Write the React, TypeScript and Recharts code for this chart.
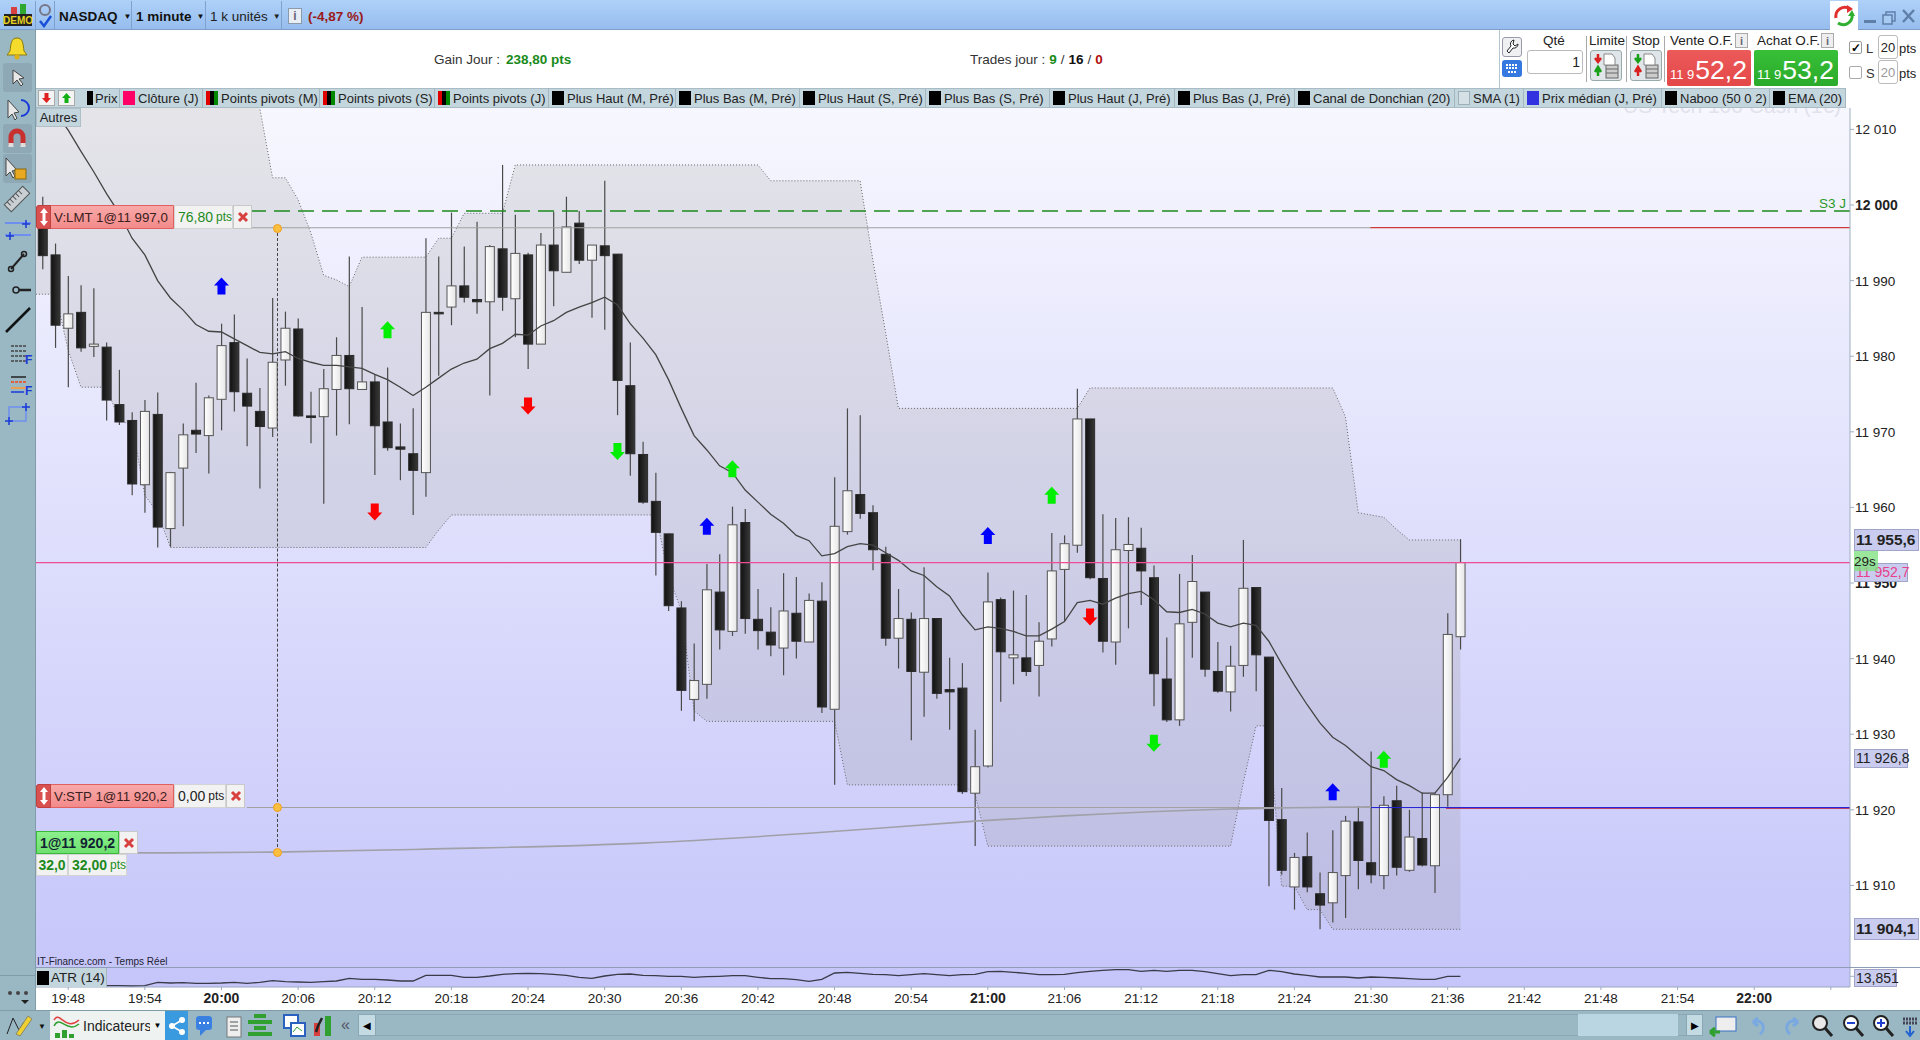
import React from "react";
import {
  Area,
  Bar,
  ComposedChart,
  Line,
  ReferenceDot,
  ReferenceLine,
  XAxis,
  YAxis,
} from "recharts";

// one label per minute, 19:45 is only half visible behind the left toolbar
const minutes = Array.from({ length: 143 }, (_, k) => {
  const t = 19 * 60 + 45 + k;
  return `${Math.floor(t / 60)}:${String(t % 60).padStart(2, "0")}`;
});

// candles start at 19:46
const opens = [
  11998.5, 11993.4, 11983.7, 11985.8, 11981.3, 11981.2, 11973.6, 11971.5, 11963.0, 11972.3,
  11957.2, 11965.2, 11970.2, 11969.5, 11974.3, 11981.8, 11975.1, 11972.7, 11970.5, 11979.5,
  11983.6, 11972.1, 11972.0, 11975.6, 11980.1, 11975.6, 11976.6, 11971.3, 11968.0, 11967.1,
  11964.6, 11985.8, 11986.5, 11989.3, 11987.5, 11987.2, 11994.2, 11987.6, 11993.4, 11981.6,
  11994.7, 11991.1, 11997.6, 11992.7, 11994.6, 11993.5, 11976.1, 11967.0, 11960.8, 11956.5,
  11946.7, 11934.6, 11936.6, 11948.8, 11943.6, 11958.0, 11945.2, 11943.5, 11941.4, 11946.0,
  11942.2, 11947.6, 11933.3, 11956.8, 11961.7, 11959.3, 11953.8, 11942.7, 11945.2, 11938.2,
  11945.3, 11935.9, 11936.1, 11922.2, 11925.8, 11947.8, 11940.1, 11940.1, 11939.1, 11942.6,
  11951.8, 11955.0, 11971.7, 11950.6, 11942.2, 11954.3, 11954.6, 11950.7, 11937.3, 11931.9,
  11944.8, 11948.8, 11938.3, 11935.6, 11939.1, 11949.4, 11940.2, 11918.7, 11909.8, 11913.8,
  11908.9, 11907.7, 11911.3, 11918.4, 11913.0, 11911.3, 11921.2, 11912.0, 11916.2, 11912.6,
  11922.0, 11942.9,
];
const closes = [
  11993.3, 11984.1, 11985.6, 11981.1, 11981.6, 11974.2, 11971.3, 11963.1, 11972.7, 11957.4,
  11964.6, 11969.6, 11969.7, 11974.5, 11981.4, 11975.3, 11973.4, 11970.7, 11979.2, 11983.7,
  11972.1, 11971.9, 11975.7, 11980.1, 11975.7, 11976.6, 11970.8, 11967.9, 11967.7, 11964.9,
  11985.8, 11985.7, 11989.3, 11987.8, 11987.2, 11994.5, 11987.8, 11993.6, 11981.6, 11994.7,
  11991.3, 11997.1, 11992.7, 11994.7, 11993.3, 11976.8, 11967.1, 11960.7, 11956.7, 11947.0,
  11935.8, 11937.1, 11949.1, 11943.8, 11957.7, 11945.3, 11943.7, 11941.8, 11946.3, 11942.3,
  11947.7, 11933.6, 11957.5, 11962.2, 11959.2, 11954.4, 11942.7, 11945.3, 11938.3, 11945.3,
  11935.4, 11935.6, 11922.4, 11925.7, 11947.5, 11940.9, 11940.5, 11938.3, 11942.3, 11951.6,
  11955.2, 11971.7, 11950.7, 11942.3, 11954.4, 11955.1, 11951.6, 11938.0, 11931.9, 11944.6,
  11950.2, 11938.6, 11935.7, 11939.0, 11949.3, 11940.5, 11918.6, 11912.0, 11913.7, 11909.8,
  11907.4, 11911.7, 11918.5, 11913.3, 11911.4, 11920.6, 11912.4, 11916.4, 11912.7, 11922.0,
  11943.2, 11952.7,
];
const highs = [
  12001.1, 11994.9, 11990.6, 11989.4, 11989.0, 11981.8, 11978.2, 11972.6, 11974.2, 11975.2,
  11964.7, 11971.1, 11976.5, 11974.8, 11984.3, 11985.5, 11979.7, 11975.8, 11987.7, 11985.9,
  11985.0, 11975.3, 11978.3, 11982.5, 11993.2, 11986.5, 11977.5, 11978.5, 11971.1, 11973.1,
  11995.6, 11993.2, 11999.0, 11994.5, 11997.8, 11994.7, 12005.3, 11998.7, 11993.7, 11996.3,
  11999.1, 12001.1, 11999.2, 11994.7, 12003.2, 11993.5, 11981.8, 11968.7, 11964.6, 11956.5,
  11947.6, 11942.0, 11952.5, 11953.8, 11960.1, 11959.8, 11949.2, 11946.8, 11951.3, 11950.8,
  11948.6, 11950.1, 11964.0, 11973.1, 11972.2, 11960.3, 11954.8, 11949.2, 11946.1, 11952.1,
  11945.3, 11940.1, 11939.4, 11930.6, 11951.4, 11948.1, 11949.0, 11948.4, 11944.8, 11956.6,
  11956.3, 11975.7, 11971.7, 11959.1, 11958.6, 11958.7, 11957.3, 11952.3, 11942.8, 11951.2,
  11953.7, 11948.8, 11942.2, 11941.7, 11955.7, 11949.4, 11940.2, 11922.9, 11914.3, 11917.0,
  11911.7, 11917.3, 11919.2, 11920.5, 11927.7, 11921.8, 11923.2, 11920.0, 11922.3, 11922.2,
  11946.0, 11955.8,
];
const lows = [
  11991.5, 11981.1, 11975.9, 11980.6, 11979.9, 11971.5, 11970.9, 11961.6, 11959.3, 11954.7,
  11954.8, 11957.5, 11967.2, 11964.5, 11970.2, 11972.7, 11968.1, 11962.5, 11969.3, 11976.1,
  11972.0, 11968.5, 11960.5, 11969.5, 11971.0, 11975.6, 11964.3, 11967.5, 11963.6, 11959.0,
  11961.4, 11977.4, 11984.1, 11987.1, 11985.6, 11974.8, 11986.0, 11982.5, 11978.3, 11981.6,
  11986.6, 11991.1, 11992.2, 11985.1, 11983.5, 11972.2, 11964.2, 11960.5, 11951.0, 11946.3,
  11933.1, 11931.7, 11934.7, 11941.2, 11943.0, 11943.3, 11941.2, 11940.3, 11937.8, 11940.0,
  11942.2, 11932.8, 11923.3, 11956.4, 11958.5, 11951.7, 11941.7, 11938.7, 11929.2, 11932.3,
  11934.7, 11930.6, 11922.1, 11915.2, 11925.6, 11934.3, 11936.6, 11937.7, 11935.0, 11941.6,
  11945.0, 11954.0, 11950.5, 11940.8, 11939.2, 11944.0, 11947.1, 11933.7, 11931.6, 11931.1,
  11940.1, 11937.6, 11935.5, 11933.0, 11937.6, 11935.7, 11909.9, 11911.4, 11906.8, 11909.1,
  11904.2, 11905.1, 11905.7, 11909.5, 11910.3, 11909.5, 11911.3, 11911.8, 11912.5, 11909.0,
  11920.4, 11941.2,
];

// Donchian and EMA start one minute earlier, at 19:45
const donchianHigh = [
  12020, 12020, 12020, 12020, 12020, 12020, 12020, 12020, 12020, 12020,
  12020, 12020, 12020, 12020, 12020, 12020, 12020, 12018, 12012.8, 12003.6,
  12003.6, 12000.7, 11996.3, 11990.7, 11990.1, 11989.2, 11993.1, 11993.1, 11993.1, 11993.1,
  11993.1, 11993.1, 11995.6, 11995.6, 11998.9, 11998.9, 11998.9, 11998.9, 12005.3, 12005.3,
  12005.3, 12005.3, 12005.3, 12005.3, 12005.3, 12005.3, 12005.3, 12005.3, 12005.3, 12005.3,
  12005.3, 12005.3, 12005.3, 12005.3, 12005.3, 12005.3, 12005.3, 12005.3, 12003.2, 12003.2,
  12003.2, 12003.2, 12003.2, 12003.2, 12003.2, 12003.2, 11992.7, 11983.1, 11973.1, 11973.1,
  11973.1, 11973.1, 11973.1, 11973.1, 11973.1, 11973.1, 11973.1, 11973.1, 11973.1, 11973.1,
  11973.1, 11973.1, 11973.1, 11975.8, 11975.8, 11975.8, 11975.8, 11975.8, 11975.8, 11975.8,
  11975.8, 11975.8, 11975.8, 11975.8, 11975.8, 11975.8, 11975.8, 11975.8, 11975.8, 11975.8,
  11975.8, 11975.8, 11975.8, 11972.0, 11959.3, 11959.0, 11958.7, 11957.1, 11955.7, 11955.7,
  11955.7, 11955.7, 11955.7,
];
const donchianLow = [
  11988.2, 11988.2, 11988.2, 11980.8, 11975.9, 11975.9, 11975.9, 11971.5, 11970.9, 11961.6,
  11959.3, 11954.7, 11954.7, 11954.7, 11954.7, 11954.7, 11954.7, 11954.7, 11954.7, 11954.7,
  11954.7, 11954.7, 11954.7, 11954.7, 11954.7, 11954.7, 11954.7, 11954.7, 11954.7, 11954.7,
  11954.7, 11954.7, 11957.0, 11959.0, 11959.0, 11959.0, 11959.0, 11959.0, 11959.0, 11959.0,
  11959.0, 11959.0, 11959.0, 11959.0, 11959.0, 11959.0, 11959.0, 11959.0, 11959.0, 11959.0,
  11951.0, 11946.3, 11933.1, 11931.7, 11931.7, 11931.7, 11931.7, 11931.7, 11931.7, 11931.7,
  11931.7, 11931.7, 11931.7, 11931.7, 11923.3, 11923.3, 11923.3, 11923.3, 11923.3, 11923.3,
  11923.3, 11923.3, 11923.3, 11923.3, 11922.1, 11915.2, 11915.2, 11915.2, 11915.2, 11915.2,
  11915.2, 11915.2, 11915.2, 11915.2, 11915.2, 11915.2, 11915.2, 11915.2, 11915.2, 11915.2,
  11915.2, 11915.2, 11915.2, 11915.2, 11915.2, 11923.6, 11931.1, 11931.1, 11909.9, 11909.9,
  11906.8, 11906.8, 11904.2, 11904.2, 11904.2, 11904.2, 11904.2, 11904.2, 11904.2, 11904.2,
  11904.2, 11904.2, 11904.2,
];
const ema20 = [
  12022, 12018, 12012.2, 12009.9, 12007.1, 12004.4, 12001.5, 11998.9, 11995.6, 11993.4,
  11990.0, 11987.7, 11986.1, 11984.2, 11983.3, 11983.2, 11982.3, 11981.4, 11980.5, 11980.3,
  11980.6, 11979.7, 11979.2, 11978.8, 11978.8, 11978.6, 11978.4, 11977.6, 11976.9, 11975.9,
  11974.8, 11975.9, 11977.1, 11978.3, 11979.1, 11979.6, 11981.0, 11981.7, 11982.9, 11982.8,
  11984.0, 11984.7, 11985.8, 11986.5, 11987.1, 11987.8, 11986.8, 11984.3, 11982.4, 11980.2,
  11976.9, 11973.1, 11969.5, 11967.6, 11965.5, 11964.6, 11962.3, 11960.7, 11959.1, 11957.9,
  11956.3, 11955.6, 11953.6, 11953.9, 11954.8, 11955.2, 11955.0, 11954.0, 11953.0, 11951.6,
  11951.0, 11949.5, 11948.3, 11945.8, 11943.8, 11944.2, 11944.0, 11943.6, 11943.0, 11943.0,
  11943.9, 11944.9, 11947.4, 11947.7, 11947.2, 11948.0, 11948.6, 11948.9, 11947.8, 11946.2,
  11946.1, 11946.5, 11945.9, 11944.7, 11944.2, 11944.7, 11944.4, 11942.3, 11939.3, 11936.5,
  11933.9, 11931.5, 11929.6, 11928.5, 11927.1, 11925.7, 11925.2, 11924.0, 11923.2, 11922.2,
  11922.2, 11924.3, 11926.8,
];

// ATR (14) starts at 19:46 like the candles
const atr14 = [
  9.2, 9.2, 9.1, 9.1, 9.2, 9.2, 9.15, 9.0, 9.15, 10.85,
  10.5, 10.65, 10.35, 10.35, 10.5, 10.85, 10.35, 10.85, 11.65, 11.15,
  11.0, 10.85, 11.15, 11.5, 12.85, 12.35, 12.35, 12.0, 11.5, 11.5,
  14.35, 14.35, 14.35, 13.35, 13.35, 14.0, 14.85, 15.15, 15.35, 15.15,
  14.85, 14.35, 13.35, 12.85, 14.0, 14.85, 15.0, 14.35, 14.15, 13.85,
  13.85, 13.35, 13.65, 13.85, 14.15, 14.15, 13.35, 12.65, 12.65, 12.15,
  11.35, 12.35, 15.5, 15.85, 15.35, 14.85, 14.65, 14.15, 14.65, 15.15,
  14.65, 14.15, 14.65, 14.85, 16.15, 16.35, 15.85, 15.35, 14.65, 14.65,
  14.85, 15.65, 16.35, 16.85, 17.15, 17.15, 16.35, 16.85, 16.35, 16.85,
  16.85, 16.15, 15.15, 14.15, 14.65, 14.65, 16.85, 16.15, 15.0, 14.35,
  13.5, 13.5, 13.5, 13.0, 13.5, 13.35, 13.0, 12.65, 12.35, 12.35,
  13.85, 13.85,
];

const positionTimes = ["19:53", "19:54", "20:04", "20:16", "20:33", "20:46", "20:59", "21:06", "21:19", "21:30"];
const positionValues = [11914.3, 11914.3, 11914.4, 11914.8, 11915.6, 11916.9, 11918.5, 11919.2, 11920.1, 11920.4];

const arrows = [
  { time: "20:00", price: 11989.3, color: "#0000ff", up: true },
  { time: "20:13", price: 11983.5, color: "#00ee00", up: true },
  { time: "20:12", price: 11959.4, color: "#ff0000", up: false },
  { time: "20:24", price: 11973.4, color: "#ff0000", up: false },
  { time: "20:31", price: 11967.4, color: "#00ee00", up: false },
  { time: "20:40", price: 11965.1, color: "#00ee00", up: true },
  { time: "20:38", price: 11957.5, color: "#0000ff", up: true },
  { time: "21:00", price: 11956.3, color: "#0000ff", up: true },
  { time: "21:05", price: 11961.6, color: "#00ee00", up: true },
  { time: "21:08", price: 11945.5, color: "#ff0000", up: false },
  { time: "21:13", price: 11928.8, color: "#00ee00", up: false },
  { time: "21:27", price: 11922.4, color: "#0000ff", up: true },
  { time: "21:31", price: 11926.7, color: "#00ee00", up: true },
];

const priceTicks = [12010, 12000, 11990, 11980, 11970, 11960, 11950, 11940, 11930, 11920, 11910];
const timeTicks = [
  "19:48", "19:54", "20:00", "20:06", "20:12", "20:18", "20:24", "20:30", "20:36", "20:42", "20:48", "20:54",
  "21:00", "21:06", "21:12", "21:18", "21:24", "21:30", "21:36", "21:42", "21:48", "21:54", "22:00", "22:06",
];

const tableRows = minutes.map((time, k) => {
  const i = k - 1;
  const hasCandle = i >= 0 && i < opens.length;
  const posIdx = positionTimes.indexOf(time);
  return {
    time,
    open: hasCandle ? opens[i] : null,
    close: hasCandle ? closes[i] : null,
    high: hasCandle ? highs[i] : null,
    low: hasCandle ? lows[i] : null,
    range: hasCandle ? [lows[i], highs[i]] : null,
    band: k < donchianHigh.length ? [donchianLow[k], donchianHigh[k]] : null,
    ema: k < ema20.length ? ema20[k] : null,
    atr: hasCandle ? atr14[i] : null,
    position: posIdx >= 0 ? positionValues[posIdx] : null,
  };
});

const FONT = '"Liberation Sans", Arial, sans-serif';
const CHROME = "#9ab8c4";
const STRIP = "#c3d5dd";

function Candle(props: any) {
  const { x, y, width, height, payload } = props;
  if (payload.high == null) return null;
  const k = height / (payload.high - payload.low);
  const up = payload.close >= payload.open;
  const top = y + (payload.high - Math.max(payload.open, payload.close)) * k;
  const bodyH = Math.max(Math.abs(payload.close - payload.open) * k, 1.5);
  const mid = x + width / 2;
  return (
    <g>
      <line x1={mid} x2={mid} y1={y} y2={y + height} stroke="#4a4a4a" strokeWidth={1.2} />
      <rect
        x={x}
        y={top}
        width={width}
        height={bodyH}
        fill={up ? "url(#whiteBody)" : "url(#darkBody)"}
        stroke={up ? "#555" : "#2a2a2a"}
        strokeWidth={1}
      />
    </g>
  );
}

function arrowShape(color: string, up: boolean) {
  return (p: any) => {
    const s = up ? 1 : -1;
    const pts = [
      [0, -8.5], [7.5, -0.5], [4, -0.5], [4, 8.5], [-4, 8.5], [-4, -0.5], [-7.5, -0.5],
    ].map(([a, b]) => `${p.cx + a},${p.cy + b * s}`);
    return <polygon points={pts.join(" ")} fill={color} />;
  };
}

function PriceTick(p: any) {
  const v = p.payload.value;
  const bold = v === 12000 || v === 11950;
  const label = `${String(v).slice(0, -3)} ${String(v).slice(-3)}`;
  return (
    <text x={p.x} y={p.y + 5} fontSize={bold ? 14 : 13.5} fontWeight={bold ? 700 : 400} fill="#222" fontFamily={FONT}>
      {label}
    </text>
  );
}

function TimeTick(p: any) {
  const v: string = p.payload.value;
  if (v === "22:06") return null;
  const bold = v.endsWith(":00");
  return (
    <text x={p.x} y={p.y + 11} textAnchor="middle" fontSize={bold ? 14 : 13.5} fontWeight={bold ? 700 : 400} fill="#222" fontFamily={FONT}>
      {v}
    </text>
  );
}

function Box({ x, y, w, h, style, children }: any) {
  return (
    <div
      style={{
        position: "absolute",
        left: x,
        top: y,
        width: w,
        height: h,
        boxSizing: "border-box",
        display: "flex",
        alignItems: "center",
        whiteSpace: "nowrap",
        ...style,
      }}
    >
      {children}
    </div>
  );
}

const legendCells = [
  { x: 79, to: 120, label: "Prix", colors: ["#000"], narrow: true },
  { x: 120, to: 203, label: "Clôture (J)", colors: ["#ff0066"] },
  { x: 203, to: 320, label: "Points pivots (M)", colors: ["#e00000", "#000", "#008800"] },
  { x: 320, to: 435, label: "Points pivots (S)", colors: ["#e00000", "#000", "#008800"] },
  { x: 435, to: 549, label: "Points pivots (J)", colors: ["#e00000", "#000", "#008800"] },
  { x: 549, to: 676, label: "Plus Haut (M, Pré)", colors: ["#000"] },
  { x: 676, to: 800, label: "Plus Bas (M, Pré)", colors: ["#000"] },
  { x: 800, to: 926, label: "Plus Haut (S, Pré)", colors: ["#000"] },
  { x: 926, to: 1050, label: "Plus Bas (S, Pré)", colors: ["#000"] },
  { x: 1050, to: 1175, label: "Plus Haut (J, Pré)", colors: ["#000"] },
  { x: 1175, to: 1295, label: "Plus Bas (J, Pré)", colors: ["#000"] },
  { x: 1295, to: 1455, label: "Canal de Donchian (20)", colors: ["#000"] },
  { x: 1455, to: 1524, label: "SMA (1)", colors: ["#d4e0e6"], outline: true },
  { x: 1524, to: 1662, label: "Prix médian (J, Pré)", colors: ["#3232e0"] },
  { x: 1662, to: 1770, label: "Naboo (50 0 2)", colors: ["#000"] },
  { x: 1770, to: 1846, label: "EMA (20)", colors: ["#000"] },
];

function Swatch({ colors, narrow, outline }: any) {
  return (
    <span
      style={{
        display: "inline-flex",
        width: narrow ? 6 : 12,
        height: 14,
        marginRight: narrow ? 2 : 3,
        flex: "none",
        boxSizing: "border-box",
        border: outline ? "1px solid #9fb0b8" : "none",
      }}
    >
      {colors.map((c: string, i: number) => (
        <span key={i} style={{ flex: 1, background: c }} />
      ))}
    </span>
  );
}

function Legend() {
  return (
    <>
      <Box x={36} y={88} w={43} h={20} style={{ background: STRIP, borderTop: "1px solid #a9bcc6", borderBottom: "1px solid #a9bcc6" }} />
      <Box x={38} y={90} w={17} h={16} style={{ background: "#f4f4f4", border: "1px solid #aaa", justifyContent: "center" }}>
        <svg width={11} height={12}>
          <path d="M5.5 11 L10 6 H7.5 V1 H3.5 V6 H1 Z" fill="#e02020" />
        </svg>
      </Box>
      <Box x={58} y={90} w={17} h={16} style={{ background: "#f4f4f4", border: "1px solid #aaa", justifyContent: "center" }}>
        <svg width={11} height={12}>
          <path d="M5.5 1 L10 6 H7.5 V11 H3.5 V6 H1 Z" fill="#12b012" />
        </svg>
      </Box>
      {legendCells.map((c) => (
        <Box
          key={c.label}
          x={c.x}
          y={88}
          w={c.to - c.x}
          h={20}
          style={{
            background: STRIP,
            borderTop: "1px solid #a9bcc6",
            borderBottom: "1px solid #a9bcc6",
            borderRight: "1px solid #a4b6c0",
            paddingLeft: c.narrow ? 8 : 3,
            fontSize: 13,
            color: "#222",
          }}
        >
          <Swatch colors={c.colors} narrow={c.narrow} outline={c.outline} />
          {c.label}
        </Box>
      ))}
      <Box x={36} y={108} w={45} h={19} style={{ background: STRIP, border: "1px solid #aebfc8", justifyContent: "center", fontSize: 13, color: "#222" }}>
        Autres
      </Box>
    </>
  );
}

function CrossCell({ x, y, w, h }: any) {
  return (
    <Box x={x} y={y} w={w} h={h} style={{ background: "#f2f2f2", border: "1px solid #c8c8c8", justifyContent: "center" }}>
      <svg width={12} height={12} viewBox="0 0 12 12">
        <path d="M2 2 L10 10 M10 2 L2 10" stroke="#d84040" strokeWidth={3} />
      </svg>
    </Box>
  );
}

function OrderTag({ y, label, gain, gainColor, gainW }: any) {
  return (
    <>
      <Box x={36} y={y} w={138} h={24} style={{ background: "linear-gradient(#f9a9a9,#f38a8a)", border: "1px solid #e06060", borderRadius: "3px 0 0 3px", paddingLeft: 17, fontSize: 13.3, color: "#3a2020" }}>
        {label}
      </Box>
      <Box x={36} y={y} w={15} h={24} style={{ background: "#d95050", border: "1px solid #c04040", borderRadius: "3px 0 0 3px", justifyContent: "center" }}>
        <svg width={10} height={18} viewBox="0 0 10 18">
          <path d="M5 0 L9 5 H6.5 V13 H9 L5 18 L1 13 H3.5 V5 H1 Z" fill="#fff" />
        </svg>
      </Box>
      <Box x={174} y={y} w={gainW} h={24} style={{ background: "#f2f2f2", border: "1px solid #d4d4d4", paddingLeft: 3, fontSize: 14, color: gainColor }}>
        {gain.split(" ")[0]}
        <span style={{ fontSize: 12, marginLeft: 3 }}>pts</span>
      </Box>
      <CrossCell x={174 + gainW} y={y} w={19} h={24} />
    </>
  );
}

function Handle({ y }: any) {
  return (
    <div style={{ position: "absolute", left: 272.5, top: y - 4.5, width: 9, height: 9, borderRadius: 5, background: "#fbbf3f", border: "1px solid #f0a020", boxSizing: "border-box" }} />
  );
}

function ValueBox({ y, h, w, text, bold, color }: any) {
  return (
    <Box x={1854} y={y} w={w} h={h} style={{ background: "#c9ccee", border: "1px solid #a0a4c8", paddingLeft: 1, fontSize: bold ? 15.5 : 14, fontWeight: bold ? 700 : 400, color: color || "#222" }}>
      {text}
    </Box>
  );
}

function LeftBar() {
  return (
    <>
      <div style={{ position: "absolute", left: 0, top: 30, width: 35, height: 980, background: CHROME, borderRight: "1px solid #7f9ca8" }} />
      <svg style={{ position: "absolute", left: 0, top: 30 }} width={35} height={400}>
        {/* bell */}
        <path d="M17 8 C11 8 11 14 10 21 L7 25 H27 L24 21 C23 14 23 8 17 8 Z" fill="#f5dc2c" stroke="#8a7a10" />
        <circle cx={17} cy={27} r={2.5} fill="#e0b010" />
        {/* raised buttons */}
        <rect x={3} y={33} width={29} height={29} rx={3} fill="#8ea9b5" />
        <rect x={3} y={94} width={29} height={29} rx={3} fill="#8ea9b5" />
        <rect x={3} y={124} width={29} height={29} rx={3} fill="#8ea9b5" />
        <path d="M13 40 L13 54 L17 50 L21 56 L23 54 L19 49 L24 48 Z" fill="#e8e8e8" stroke="#444" />
        <path d="M8 70 L8 88 L12 84 L15 90 L17 88 L14 83 L19 82 Z" fill="#e8e8e8" stroke="#444" />
        <path d="M21 70 A8 8 0 1 1 21 86" fill="none" stroke="#1a3ad8" strokeWidth={2} />
        <path d="M11 115 V107 A6 6 0 0 1 23 107 V115" fill="none" stroke="#c83030" strokeWidth={5} />
        <rect x={8.5} y={113} width={5} height={4} fill="#ddd" />
        <rect x={20.5} y={113} width={5} height={4} fill="#ddd" />
        <path d="M6 128 L6 146 L10 142 L13 148 L15 146 L12 141 L17 140 Z" fill="#e8e8e8" stroke="#444" />
        <rect x={15} y={139} width={11} height={10} fill="#e8a820" stroke="#8a6a10" />
        <g transform="translate(17 169) rotate(-45)">
          <rect x={-13} y={-5} width={26} height={10} fill="#c9d0d4" stroke="#555" />
          <path d="M-9 -5 V0 M-5 -5 V0 M-1 -5 V0 M3 -5 V0 M7 -5 V0" stroke="#555" />
        </g>
        <path d="M5 193 H31 M5 205 H31" stroke="#6f8ff0" strokeWidth={2} />
        <path d="M26 190 V198 M22 194 H30 M10 202 V210 M6 206 H14" stroke="#1a3ad8" strokeWidth={1.5} />
        <path d="M11 239 L24 224" stroke="#222" strokeWidth={2} />
        <circle cx={11} cy={239} r={2.5} fill="none" stroke="#222" strokeWidth={1.5} />
        <circle cx={24} cy={224} r={2.5} fill="none" stroke="#222" strokeWidth={1.5} />
        <circle cx={16} cy={260} r={3} fill="none" stroke="#222" strokeWidth={1.5} />
        <path d="M19 260 H31" stroke="#222" strokeWidth={2.5} />
        <path d="M6 302 L30 278" stroke="#111" strokeWidth={2.5} />
        <path d="M11 316 H26 M11 321 H26 M11 326 H26 M11 331 H26" stroke="#444" strokeWidth={1.5} strokeDasharray="3 1" />
        <text x={25} y={334} fontSize={12} fontWeight={700} fill="#1a3ad8" fontFamily={FONT}>F</text>
        <path d="M11 347 H26" stroke="#222" strokeWidth={1.5} />
        <path d="M11 352 H26" stroke="#e06040" strokeWidth={2} strokeDasharray="3 1" />
        <path d="M11 358 H26" stroke="#e8a050" strokeWidth={2} />
        <path d="M11 362 H24" stroke="#1a3ad8" strokeWidth={1.5} />
        <text x={25} y={365} fontSize={12} fontWeight={700} fill="#1a3ad8" fontFamily={FONT}>F</text>
        <rect x={9} y={377} width={17} height={14} fill="none" stroke="#6f8ff0" strokeWidth={1.5} />
        <path d="M26 373 V381 M22 377 H30 M9 387 V395 M5 391 H13" stroke="#1a3ad8" strokeWidth={1.5} />
      </svg>
      <div style={{ position: "absolute", left: 0, top: 975, width: 35, height: 1, background: "#7f9ca8" }} />
      <svg style={{ position: "absolute", left: 0, top: 985 }} width={35} height={22}>
        <circle cx={10} cy={8} r={2} fill="#444" />
        <circle cx={18} cy={8} r={2} fill="#444" />
        <circle cx={26} cy={8} r={2} fill="#444" />
        <path d="M21 15 H29 L25 19 Z" fill="#222" />
      </svg>
    </>
  );
}

function TopBar() {
  const seps = [35, 54, 131, 205, 281];
  return (
    <>
      <div style={{ position: "absolute", left: 0, top: 0, width: 1920, height: 30, background: "linear-gradient(#aed1f8,#96bdee)", borderBottom: "1px solid #7f9fc8", boxSizing: "border-box" }} />
      {seps.map((x) => (
        <div key={x} style={{ position: "absolute", left: x, top: 1, width: 1, height: 28, background: "#7fa2cc" }} />
      ))}
      <Box x={4} y={14} w={28} h={12} style={{ background: "#222", color: "#e8d020", fontSize: 10, fontWeight: 700, justifyContent: "center" }}>DEMO</Box>
      <div style={{ position: "absolute", left: 11, top: 7, width: 6, height: 7, background: "#d84040" }} />
      <div style={{ position: "absolute", left: 20, top: 4, width: 6, height: 10, background: "#30a830" }} />
      <svg style={{ position: "absolute", left: 38, top: 3 }} width={15} height={25}>
        <circle cx={7} cy={7} r={5} fill="none" stroke="#778" strokeWidth={2} />
        <path d="M2 18 L6 23 L13 13" fill="none" stroke="#1a50d8" strokeWidth={2.5} />
      </svg>
      <Box x={59} y={4} w={70} h={24} style={{ fontSize: 13.5, fontWeight: 700, color: "#111" }}>
        NASDAQ<span style={{ fontSize: 8, marginLeft: 6 }}>▼</span>
      </Box>
      <Box x={136} y={4} w={70} h={24} style={{ fontSize: 13.5, fontWeight: 700, color: "#111" }}>
        1 minute<span style={{ fontSize: 8, marginLeft: 5 }}>▼</span>
      </Box>
      <Box x={210} y={4} w={70} h={24} style={{ fontSize: 13.5, color: "#222" }}>
        1 k unités<span style={{ fontSize: 8, marginLeft: 5 }}>▼</span>
      </Box>
      <Box x={288} y={8} w={14} h={16} style={{ background: "#e8eef4", border: "1px solid #8a9aaa", justifyContent: "center", fontSize: 12, fontWeight: 700, color: "#667" }}>i</Box>
      <Box x={308} y={4} w={70} h={24} style={{ fontSize: 13.5, fontWeight: 700, color: "#9a1a1a" }}>(-4,87 %)</Box>
      <div style={{ position: "absolute", left: 1830, top: 1, width: 28, height: 29, background: "#fff" }} />
      <svg style={{ position: "absolute", left: 1832, top: 4 }} width={24} height={24}>
        <path d="M4 14 A9 9 0 0 1 18 5" fill="none" stroke="#e03030" strokeWidth={3} />
        <path d="M15 1 L21 5 L15 9 Z" fill="#e03030" />
        <path d="M20 10 A9 9 0 0 1 6 19" fill="none" stroke="#30b030" strokeWidth={3} />
        <path d="M16 12 L23 12 L20 6 Z" fill="#30b030" />
      </svg>
      <svg style={{ position: "absolute", left: 1862, top: 6 }} width={56} height={20}>
        <rect x={2} y={14} width={12} height={3} fill="#5f7fa8" />
        <rect x={24} y={6} width={9} height={9} fill="none" stroke="#5f7fa8" strokeWidth={1.5} />
        <rect x={21} y={9} width={9} height={9} fill="#a8cbf4" stroke="#5f7fa8" strokeWidth={1.5} />
        <path d="M41 4 L52 16 M52 4 L41 16" stroke="#5f7fa8" strokeWidth={2.5} />
      </svg>
    </>
  );
}

function Header() {
  return (
    <>
      <div style={{ position: "absolute", left: 35, top: 30, width: 1885, height: 58, background: "#fff" }} />
      <Box x={434} y={49} w={200} h={20} style={{ fontSize: 13.5, color: "#333" }}>
        Gain Jour :
        <span style={{ color: "#1a8a1a", fontWeight: 700, marginLeft: 6 }}>238,80 pts</span>
      </Box>
      <Box x={970} y={49} w={200} h={20} style={{ fontSize: 13.5, color: "#333" }}>
        Trades jour :
        <span style={{ color: "#1a8a1a", fontWeight: 700, marginLeft: 4 }}>9</span>
        <span style={{ margin: "0 4px" }}>/</span>
        <span style={{ color: "#111", fontWeight: 700 }}>16</span>
        <span style={{ margin: "0 4px" }}>/</span>
        <span style={{ color: "#b01010", fontWeight: 700 }}>0</span>
      </Box>
    </>
  );
}

function TicketIcon({ x, topColor, bottomColor }: any) {
  return (
    <Box x={x} y={50} w={32} h={31} style={{ background: "#dfe5e8", border: "1px solid #9aa", borderRadius: 3, display: "block" }}>
      <svg width={30} height={29}>
        <path d="M7 3 V10 M4 7 L7 11 L10 7" stroke={topColor} strokeWidth={2.5} fill="none" />
        <path d="M7 25 V17 M4 21 L7 16 L10 21" stroke={bottomColor} strokeWidth={2.5} fill="none" />
        <rect x={15} y={14} width={12} height={13} fill="#ccc" stroke="#666" />
        <path d="M15 18 H27 M15 22 H27" stroke="#666" />
        <path d="M13 3 H21 L24 7 V14 H13 Z" fill="#fff" stroke="#888" />
      </svg>
    </Box>
  );
}

function Ticket() {
  const small = { fontSize: 13.5, color: "#222", justifyContent: "center" };
  return (
    <>
      <div style={{ position: "absolute", left: 1499, top: 30, width: 1, height: 58, background: "#b4c6d0" }} />
      <Box x={1502} y={37} w={20} h={20} style={{ background: "#eef0f2", border: "1px solid #99a", borderRadius: 3, justifyContent: "center", fontSize: 13 }}>
        <svg width={14} height={16}>
          <path d="M9 1 A4 4 0 0 0 6 7 L2 12 L4 14 L8 9 A4 4 0 0 0 13 5 L10 7 L8 5 Z" fill="#fff" stroke="#222" />
        </svg>
      </Box>
      <Box x={1502} y={60} w={20} h={17} style={{ background: "#3578e0", borderRadius: 3, justifyContent: "center" }}>
        <svg width={16} height={12}>
          <path d="M2 2 H14 M2 5 H14 M4 9 H12" stroke="#fff" strokeWidth={2} strokeDasharray="2 1" />
        </svg>
      </Box>
      <Box x={1534} y={32} w={40} h={16} style={small}>Qté</Box>
      <Box x={1527} y={50} w={56} h={24} style={{ background: "#fff", border: "1px solid #bbb", borderRadius: 3, justifyContent: "flex-end", paddingRight: 2, fontSize: 14, color: "#222" }}>1</Box>
      <div style={{ position: "absolute", left: 1586, top: 36, width: 1, height: 46, background: "#aaa" }} />
      <Box x={1587} y={32} w={40} h={16} style={small}>Limite</Box>
      <div style={{ position: "absolute", left: 1626, top: 36, width: 1, height: 46, background: "#aaa" }} />
      <Box x={1628} y={32} w={36} h={16} style={small}>Stop</Box>
      <div style={{ position: "absolute", left: 1664, top: 36, width: 1, height: 46, background: "#aaa" }} />
      <TicketIcon x={1590} topColor="#d82020" bottomColor="#18a018" />
      <TicketIcon x={1630} topColor="#18a018" bottomColor="#d82020" />
      <Box x={1670} y={32} w={70} h={16} style={{ fontSize: 13.5, color: "#222" }}>Vente O.F.</Box>
      <Box x={1735} y={33} w={13} h={15} style={{ background: "#eee", border: "1px solid #aaa", justifyContent: "center", fontSize: 11, color: "#667", fontWeight: 700 }}>i</Box>
      <Box x={1757} y={32} w={70} h={16} style={{ fontSize: 13.5, color: "#222" }}>Achat O.F.</Box>
      <Box x={1821} y={33} w={13} h={15} style={{ background: "#eee", border: "1px solid #aaa", justifyContent: "center", fontSize: 11, color: "#667", fontWeight: 700 }}>i</Box>
      <Box x={1667} y={50} w={84} h={36} style={{ background: "linear-gradient(#ec5a5a,#e44848)", borderRadius: 2, color: "#fff", paddingLeft: 3, alignItems: "baseline", paddingTop: 5 }}>
        <span style={{ fontSize: 13 }}>11 9</span>
        <span style={{ fontSize: 26.5, marginLeft: 1 }}>52,2</span>
      </Box>
      <Box x={1754} y={50} w={84} h={36} style={{ background: "linear-gradient(#38c038,#2aaa2a)", borderRadius: 2, color: "#fff", paddingLeft: 3, alignItems: "baseline", paddingTop: 5 }}>
        <span style={{ fontSize: 13 }}>11 9</span>
        <span style={{ fontSize: 26.5, marginLeft: 1 }}>53,2</span>
      </Box>
      <Box x={1849} y={41} w={13} h={13} style={{ background: "#fff", border: "1px solid #999", borderRadius: 2, justifyContent: "center", fontSize: 12, fontWeight: 700 }}>✓</Box>
      <Box x={1866} y={40} w={10} h={16} style={{ fontSize: 13, color: "#333" }}>L</Box>
      <Box x={1878} y={35} w={20} h={24} style={{ background: "#fff", border: "1px solid #bbb", borderRadius: 3, justifyContent: "center", fontSize: 13, color: "#222" }}>20</Box>
      <Box x={1899} y={40} w={22} h={16} style={{ fontSize: 13, color: "#222" }}>pts</Box>
      <Box x={1849} y={66} w={13} h={13} style={{ background: "#fff", border: "1px solid #aaa", borderRadius: 2 }} />
      <Box x={1866} y={65} w={10} h={16} style={{ fontSize: 13, color: "#333" }}>S</Box>
      <Box x={1878} y={60} w={20} h={24} style={{ background: "#fff", border: "1px solid #bbb", borderRadius: 3, justifyContent: "center", fontSize: 13, color: "#999" }}>20</Box>
      <Box x={1899} y={65} w={22} h={16} style={{ fontSize: 13, color: "#222" }}>pts</Box>
    </>
  );
}

function BottomBar() {
  return (
    <>
      <div style={{ position: "absolute", left: 0, top: 1010, width: 1920, height: 30, background: CHROME, borderTop: "1px solid #7f9ca8", boxSizing: "border-box" }} />
      <svg style={{ position: "absolute", left: 4, top: 1012 }} width={30} height={26}>
        <path d="M3 22 L9 6 L15 18 L20 10" fill="none" stroke="#222" />
        <path d="M12 22 L24 4 L28 7 L16 24 Z" fill="#f0d030" stroke="#886" />
      </svg>
      <Box x={38} y={1020} w={10} h={12} style={{ fontSize: 8, color: "#111" }}>▼</Box>
      <Box x={50} y={1011} w={100} h={29} style={{ background: "#eef2f0", paddingLeft: 33, fontSize: 14, color: "#222" }}>Indicateurs</Box>
      <svg style={{ position: "absolute", left: 53, top: 1012 }} width={28} height={27}>
        <path d="M1 8 C7 -2 12 20 26 8" fill="none" stroke="#e04040" strokeWidth={1.5} />
        <path d="M1 14 C7 2 14 22 26 12" fill="none" stroke="#30a030" strokeWidth={1.5} />
        <path d="M2 26 V21 H7 V26 M9 26 V18 H14 V26 M16 26 V22 H21 V26" fill="#30a030" />
      </svg>
      <Box x={150} y={1011} w={15} h={29} style={{ background: "#eef2f0", fontSize: 8, justifyContent: "center" }}>▼</Box>
      <Box x={165} y={1011} w={23} h={29} style={{ background: "#3a9ae0", justifyContent: "center" }}>
        <svg width={18} height={20}>
          <circle cx={4} cy={10} r={3} fill="#fff" />
          <circle cx={14} cy={4} r={3} fill="#fff" />
          <circle cx={14} cy={16} r={3} fill="#fff" />
          <path d="M4 10 L14 4 M4 10 L14 16" stroke="#fff" strokeWidth={1.5} />
        </svg>
      </Box>
      <svg style={{ position: "absolute", left: 194, top: 1012 }} width={145} height={28}>
        <rect x={2} y={4} width={16} height={14} rx={3} fill="#3a80e0" />
        <path d="M6 18 V24 L12 18 Z" fill="#3a80e0" />
        <path d="M5 11 H15" stroke="#fff" strokeWidth={2} strokeDasharray="2 2" />
        <rect x={33} y={5} width={14} height={20} fill="#eee" stroke="#777" />
        <path d="M36 10 H44 M36 14 H44 M36 18 H44" stroke="#555" />
        <path d="M60 4 H72 M54 10 H78 M60 16 H72 M54 22 H78" stroke="#30a030" strokeWidth={4} />
        <rect x={90} y={3} width={14} height={13} fill="#fff" stroke="#2a60c0" strokeWidth={2} />
        <rect x={97} y={11} width={14} height={13} fill="#fff" stroke="#2a60c0" strokeWidth={2} />
        <path d="M99 20 L103 15 L108 19" fill="none" stroke="#30a030" />
        <rect x={120} y={11} width={6} height={13} fill="#d84040" />
        <rect x={131} y={4} width={6} height={20} fill="#30a030" />
        <path d="M128 6 L124 14 L122 20" stroke="#222" strokeWidth={2.5} fill="none" />
      </svg>
      <Box x={341} y={1016} w={14} h={18} style={{ fontSize: 16, color: "#556" }}>«</Box>
      <Box x={358} y={1014} w={1330} h={22} style={{ background: "#9ab8c4", border: "1px solid #8aa7b3", borderRadius: 3 }} />
      <Box x={358} y={1014} w={18} h={22} style={{ background: "#c4dbe4", border: "1px solid #8aa7b3", justifyContent: "center", fontSize: 10 }}>◀</Box>
      <Box x={1578} y={1014} w={100} h={22} style={{ background: "#b9d6e2" }} />
      <Box x={1686} y={1014} w={17} h={22} style={{ background: "#c4dbe4", border: "1px solid #8aa7b3", justifyContent: "center", fontSize: 10 }}>▶</Box>
      <svg style={{ position: "absolute", left: 1708, top: 1012 }} width={212} height={28}>
        <rect x={8} y={5} width={20} height={14} fill="#eee" stroke="#3a70c0" />
        <path d="M2 20 H12 M2 20 L7 16 M2 20 L7 24" stroke="#30a030" strokeWidth={3} />
        <path d="M45 10 C56 6 58 18 52 22 M45 10 L50 6 M45 10 L50 14" fill="none" stroke="#7aa8e0" strokeWidth={3} />
        <path d="M90 10 C78 6 76 18 82 22 M90 10 L85 6 M90 10 L85 14" fill="none" stroke="#7aa8e0" strokeWidth={3} />
        <circle cx={112} cy={11} r={7} fill="#e8e8e8" stroke="#222" strokeWidth={2} />
        <path d="M117 16 L124 24" stroke="#222" strokeWidth={3} />
        <circle cx={143} cy={11} r={7} fill="#fff" stroke="#222" strokeWidth={2} />
        <path d="M139 11 H147" stroke="#2040d0" strokeWidth={2} />
        <path d="M148 16 L155 24" stroke="#222" strokeWidth={3} />
        <circle cx={173} cy={11} r={7} fill="#fff" stroke="#222" strokeWidth={2} />
        <path d="M169 11 H177 M173 7 V15" stroke="#2040d0" strokeWidth={2} />
        <path d="M178 16 L185 24" stroke="#222" strokeWidth={3} />
        <path d="M195 7 H210 M195 11 H210" stroke="#445" strokeWidth={3} strokeDasharray="2 1" />
        <path d="M202 14 V22 M198 19 L202 24 L206 19" fill="none" stroke="#2060d0" strokeWidth={2} />
      </svg>
    </>
  );
}

export default function App() {
  return (
    <div style={{ position: "absolute", left: 0, top: 0, width: 1920, height: 1040, overflow: "hidden", background: "#fff", fontFamily: FONT }}>
      {/* panel background */}
      <div style={{ position: "absolute", left: 36, top: 108, width: 1814, height: 879, background: "linear-gradient(#f7f7ff,#c5c5fa)" }} />
      <div style={{ position: "absolute", left: 1591, top: 94, width: 250, fontSize: 21, color: "#e2e2ec", textAlign: "right" }}>US Tech 100 Cash (1€)</div>

      <div style={{ position: "absolute", left: 0, top: 0 }}>
        <ComposedChart
          width={1920}
          height={967}
          data={tableRows}
          margin={{ top: 108, right: 0, bottom: 0, left: 23.5 }}
        >
          <defs>
            <linearGradient id="whiteBody" x1="0" x2="1" y1="0" y2="0">
              <stop offset="0%" stopColor="#ffffff" />
              <stop offset="100%" stopColor="#e6e6e6" />
            </linearGradient>
            <linearGradient id="darkBody" x1="0" x2="1" y1="0" y2="0">
              <stop offset="0%" stopColor="#111111" />
              <stop offset="100%" stopColor="#383838" />
            </linearGradient>
          </defs>
          <XAxis dataKey="time" scale="band" hide />
          <YAxis
            orientation="right"
            width={70}
            domain={[11899.21, 12012.83]}
            allowDataOverflow
            ticks={priceTicks}
            interval={0}
            stroke="#9fb0c0"
            tickSize={4}
            tickMargin={1}
            tick={PriceTick}
          />
          <Area
            dataKey="band"
            type="linear"
            stroke="#666"
            strokeWidth={1}
            strokeDasharray="1 2"
            fill="#6e6e58"
            fillOpacity={0.13}
            dot={false}
            activeDot={false}
            isAnimationActive={false}
          />
          <ReferenceLine y={11999.2} stroke="#1d8a1d" strokeWidth={1.6} strokeDasharray="16 8" />
          {/* these lines run from the scale to the left, so the first dash is the coloured end */}
          <ReferenceLine y={11997} stroke="#d03838" strokeWidth={1.2} strokeDasharray="480 2000" />
          <ReferenceLine
            segment={[{ x: "20:02", y: 11997 }, { x: "21:30", y: 11997 }]}
            stroke="#a0a0a0"
            strokeWidth={1.1}
          />
          <ReferenceLine y={11920.2} stroke="#c02040" strokeWidth={1} strokeDasharray="404 2000" />
          <ReferenceLine y={11920.3} stroke="#2020d8" strokeWidth={1} strokeDasharray="480 2000" />
          <ReferenceLine
            segment={[{ x: "20:02", y: 11920.3 }, { x: "21:30", y: 11920.3 }]}
            stroke="#a0a0a0"
            strokeWidth={1.1}
          />
          <Line
            dataKey="position"
            type="monotone"
            connectNulls
            stroke="#a0a0a8"
            strokeWidth={1.6}
            dot={false}
            activeDot={false}
            isAnimationActive={false}
          />
          <Bar dataKey="range" barSize={9} shape={Candle} isAnimationActive={false} />
          <Line
            dataKey="ema"
            type="linear"
            stroke="#444"
            strokeWidth={1.3}
            dot={false}
            activeDot={false}
            isAnimationActive={false}
          />
          <ReferenceLine y={11952.7} stroke="#ee4d96" strokeWidth={1.3} />
          {arrows.map((a) => (
            <ReferenceDot
              key={`${a.time}-${a.price}`}
              x={a.time}
              y={a.price}
              r={8}
              shape={arrowShape(a.color, a.up)}
            />
          ))}
        </ComposedChart>
      </div>

      {/* ATR panel with the time axis */}
      <div style={{ position: "absolute", left: 0, top: 967 }}>
        <ComposedChart
          width={1920}
          height={43}
          data={tableRows}
          margin={{ top: 0, right: 0, bottom: 0, left: 23.5 }}
        >
          <XAxis
            dataKey="time"
            scale="band"
            height={23}
            ticks={timeTicks}
            interval={0}
            stroke="#9aa8c0"
            tickSize={3}
            tick={TimeTick}
          />
          <YAxis
            orientation="right"
            width={70}
            domain={[8.5, 18.5]}
            ticks={[13.85]}
            stroke="#9fb0c0"
            tickSize={4}
            tickFormatter={() => ""}
          />
          <Line
            dataKey="atr"
            type="linear"
            stroke="#3a3a48"
            strokeWidth={1.3}
            dot={false}
            activeDot={false}
            isAnimationActive={false}
          />
        </ComposedChart>
      </div>
      <div style={{ position: "absolute", left: 36, top: 967, width: 1884, height: 1, background: "#8f9cb8" }} />

      {/* order handles over the chart */}
      <div style={{ position: "absolute", left: 277, top: 228, height: 624, borderLeft: "1px dashed #444" }} />
      <Handle y={228} />
      <Handle y={807.5} />
      <Handle y={852} />
      <OrderTag y={205} label="V:LMT 1@11 997,0" gain="76,80 pts" gainColor="#1d8a1d" gainW={59} />
      <OrderTag y={784} label="V:STP 1@11 920,2" gain="0,00 pts" gainColor="#222" gainW={52} />
      <Box x={36} y={831} w={83} h={23} style={{ background: "linear-gradient(#8cf08c,#6ee06e)", border: "1px solid #3ab83a", justifyContent: "center", fontSize: 14, fontWeight: 700, color: "#123" }}>
        1@11 920,2
      </Box>
      <CrossCell x={119} y={831} w={19} h={23} />
      <Box x={36} y={854} w={32} h={22} style={{ background: "#f2f2f2", border: "1px solid #d4d4d4", justifyContent: "center", fontSize: 14, fontWeight: 700, color: "#1d8a1d" }}>32,0</Box>
      <Box x={68} y={854} w={59} h={22} style={{ background: "#f2f2f2", border: "1px solid #d4d4d4", paddingLeft: 3, fontSize: 14, fontWeight: 700, color: "#1d8a1d" }}>
        32,00<span style={{ fontSize: 12, fontWeight: 400, marginLeft: 3 }}>pts</span>
      </Box>
      <div style={{ position: "absolute", left: 37, top: 956, fontSize: 10, color: "#223" }}>IT-Finance.com - Temps Réel</div>
      <Box x={36} y={968} w={71} h={19} style={{ background: STRIP, borderRight: "1px solid #a4b6c0", paddingLeft: 1, fontSize: 13.5, color: "#222" }}>
        <span style={{ width: 12, height: 14, background: "#000", marginRight: 2 }} />
        ATR (14)
      </Box>
      <div style={{ position: "absolute", left: 1819, top: 196, fontSize: 13.5, color: "#2a9a2a" }}>S3 J</div>

      {/* values on the price scale */}
      <ValueBox y={529} h={22} w={65} text="11 955,6" bold />
      <ValueBox y={562.5} h={19} w={54} text="11 952,7" color="#e8408a" />
      <Box x={1854} y={551} w={24} h={20} style={{ background: "rgba(130,225,130,0.8)", fontSize: 13.5, color: "#222" }}>29s</Box>
      <ValueBox y={748.5} h={19} w={54} text="11 926,8" />
      <ValueBox y={918} h={22} w={65} text="11 904,1" bold />
      <ValueBox y={969} h={18} w={43} text="13,851" />

      <Header />
      <Legend />
      <Ticket />
      <TopBar />
      <LeftBar />
      <BottomBar />
    </div>
  );
}
